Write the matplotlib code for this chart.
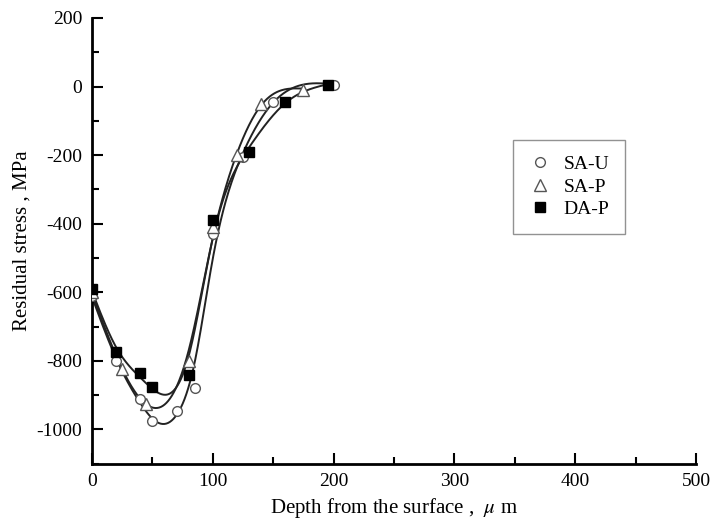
import numpy as np
import matplotlib
matplotlib.use("Agg")
import matplotlib.pyplot as plt
from matplotlib.ticker import MultipleLocator

plt.rcParams['font.family'] = ['Liberation Serif', 'DejaVu Serif']
plt.rcParams['mathtext.fontset'] = 'stix'
plt.rcParams['axes.unicode_minus'] = False

# Residual stress profiles (depth in um, stress in MPa)
sau_x = [0, 20, 40, 50, 70, 85, 100, 125, 150, 200]
sau_y = [-610, -800, -910, -975, -945, -880, -430, -205, -45, 5]

sap_x = [0, 25, 45, 80, 100, 120, 140, 175]
sap_y = [-600, -825, -925, -800, -410, -200, -50, -10]

dap_x = [0, 20, 40, 50, 80, 100, 130, 160, 195]
dap_y = [-590, -775, -835, -875, -840, -390, -190, -45, 5]

series = [
    ("SA-U", sau_x, sau_y, dict(marker='o', mfc='white', mec='#555555', ms=7)),
    ("SA-P", sap_x, sap_y, dict(marker='^', mfc='white', mec='#555555', ms=8)),
    ("DA-P", dap_x, dap_y, dict(marker='s', mfc='black', mec='black', ms=7)),
]

fig = plt.figure(figsize=(7.25, 5.27), dpi=100)
ax = fig.add_axes([0.127, 0.12, 0.833, 0.846])


def smooth_curve(x, y, lam=4e3, step=0.5):
    """Penalised least-squares smoother (second differences) on a fine grid."""
    x = np.asarray(x, float)
    y = np.asarray(y, float)
    xs = np.arange(0, x.max() + step / 2, step)
    n = len(xs)
    W = np.zeros(n)
    z = np.zeros(n)
    idx = np.rint(x / step).astype(int)
    W[idx] = 1.0
    z[idx] = y
    D = np.diff(np.eye(n), 2, axis=0)
    A = np.diag(W) + lam * D.T @ D
    return xs, np.linalg.solve(A, W * z)


for name, x, y, style in series:
    xs, ys = smooth_curve(x, y)
    ax.plot(xs, ys, color='#222222', lw=1.4, zorder=2)
    ax.plot(x, y, ls='none', label=name, mew=1.0, zorder=3, **style)

ax.set_xlim(0, 500)
ax.set_ylim(-1100, 200)
ax.xaxis.set_major_locator(MultipleLocator(100))
ax.xaxis.set_minor_locator(MultipleLocator(50))
ax.yaxis.set_major_locator(MultipleLocator(200))
ax.yaxis.set_minor_locator(MultipleLocator(100))
ax.tick_params(which='both', direction='in', top=False, right=False,
               labelsize=14, width=1.5)
ax.tick_params(which='major', length=8, pad=7)
ax.tick_params(which='minor', length=5)

for side in ('top', 'right'):
    ax.spines[side].set_visible(False)
for side in ('left', 'bottom'):
    ax.spines[side].set_linewidth(2)

ax.set_xlabel("Depth from the surface ,  $\\mu$ m", fontsize=15, labelpad=4)
ax.set_ylabel("Residual stress , MPa", fontsize=15, labelpad=4)

leg = ax.legend(loc='upper left', bbox_to_anchor=(0.697, 0.726), fontsize=14,
                frameon=True, fancybox=False, edgecolor='#777777',
                handletextpad=0.6, borderpad=0.8, labelspacing=0.25,
                handlelength=1.2, borderaxespad=0)
leg.get_frame().set_linewidth(1.0)

fig.savefig("out.png", dpi=100)
